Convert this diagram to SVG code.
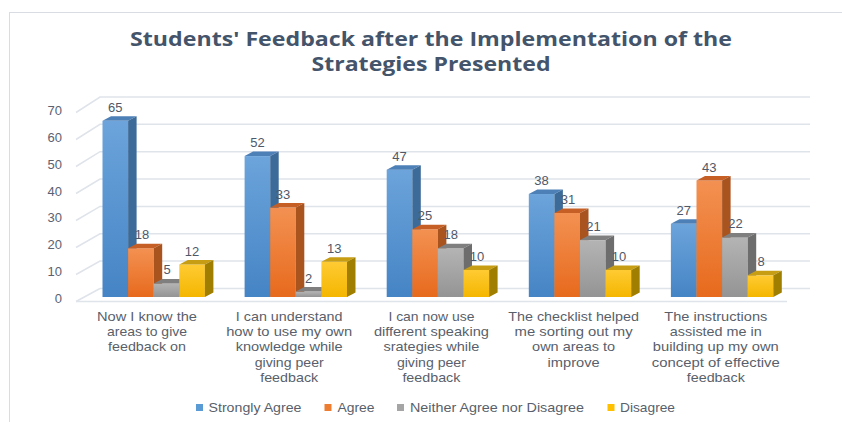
<svg xmlns="http://www.w3.org/2000/svg" width="842" height="422" viewBox="0 0 842 422">
<defs>
<linearGradient id="gB" x1="0" y1="0" x2="0" y2="1"><stop offset="0" stop-color="#6ca4db"/><stop offset="1" stop-color="#4584c5"/></linearGradient>
<linearGradient id="gO" x1="0" y1="0" x2="0" y2="1"><stop offset="0" stop-color="#f39152"/><stop offset="1" stop-color="#e76a1d"/></linearGradient>
<linearGradient id="gG" x1="0" y1="0" x2="0" y2="1"><stop offset="0" stop-color="#b4b4b4"/><stop offset="1" stop-color="#949494"/></linearGradient>
<linearGradient id="gY" x1="0" y1="0" x2="0" y2="1"><stop offset="0" stop-color="#ffcb33"/><stop offset="1" stop-color="#f4b600"/></linearGradient>
</defs>
<style>
.grid{stroke:#dfe3ea;stroke-width:1.5;fill:none}
.ax{font-family:"Liberation Sans",Arial,sans-serif;font-size:13px;fill:#5a6272}
.val{font-family:"Liberation Sans",Arial,sans-serif;font-size:13px;fill:#4f5868;text-anchor:middle}
.cat{font-family:"Liberation Sans",Arial,sans-serif;font-size:13.5px;fill:#595f6b;text-anchor:middle}
.leg{font-family:"Liberation Sans",Arial,sans-serif;font-size:13.5px;fill:#595f6b}
.title{font-family:"Open Sans","Liberation Sans",sans-serif;font-size:20px;font-weight:bold;fill:#44546a;text-anchor:middle}
.bf{fill:url(#gB)} .bs{fill:#3d6b99} .bt{fill:#4e80b8}
.of{fill:url(#gO)} .os{fill:#a9531f} .ot{fill:#c55f25}
.gf{fill:url(#gG)} .gs{fill:#6d6d6d} .gt{fill:#7f7f7f}
.yf{fill:url(#gY)} .ys{fill:#a07f00} .yt{fill:#c79d14}
</style>
<rect x="0" y="0" width="842" height="422" fill="#ffffff"/>
<rect id="frame" x="9.5" y="12.5" width="1000" height="1000" fill="#ffffff" stroke="#d9dde3" stroke-width="1"/>

<g id="title">
<text class="title" x="431" y="46" textLength="602" lengthAdjust="spacingAndGlyphs">Students' Feedback after the Implementation of the</text>
<text class="title" x="431" y="71" textLength="239" lengthAdjust="spacingAndGlyphs">Strategies Presented</text>
</g>

<g id="gridlines">
<path class="grid" d="M76,301.5 L100,288.5 M76,274.5 L100,261.1 H810 M76,247.5 L100,233.8 H810 M76,220.5 L100,206.4 H810 M76,193.5 L100,179.1 H810 M76,166.5 L100,151.7 H810 M76,139.5 L100,124.3 H810 M76,112.5 L100,97 H810"/>
<path class="grid" d="M100,288.5 H810 M76,301.5 H787"/>
</g>

<g id="y-axis">
<text class="ax" x="62" y="303" text-anchor="end">0</text>
<text class="ax" x="62" y="276.1" text-anchor="end">10</text>
<text class="ax" x="62" y="249.3" text-anchor="end">20</text>
<text class="ax" x="62" y="222.4" text-anchor="end">30</text>
<text class="ax" x="62" y="195.6" text-anchor="end">40</text>
<text class="ax" x="62" y="168.7" text-anchor="end">50</text>
<text class="ax" x="62" y="141.8" text-anchor="end">60</text>
<text class="ax" x="62" y="115" text-anchor="end">70</text>
</g>

<g id="group1">
<rect class="bf" x="102.5" y="120.85" width="25.6" height="176.15"/>
<path class="bt" d="M102.5,120.85 L111,116.35 L136.6,116.35 L128.1,120.85Z"/>
<path class="bs" d="M128.1,120.85 L136.6,116.35 L136.6,292.5 L128.1,297Z"/>
<rect class="of" x="128.1" y="248.22" width="25.6" height="48.78"/>
<path class="ot" d="M128.1,248.22 L136.6,243.72 L162.2,243.72 L153.7,248.22Z"/>
<path class="os" d="M153.7,248.22 L162.2,243.72 L162.2,292.5 L153.7,297Z"/>
<rect class="gf" x="153.7" y="283.45" width="25.6" height="13.55"/>
<path class="gt" d="M153.7,283.45 L162.2,278.95 L187.8,278.95 L179.3,283.45Z"/>
<path class="gs" d="M179.3,283.45 L187.8,278.95 L187.8,292.5 L179.3,297Z"/>
<rect class="yf" x="179.3" y="264.48" width="25.6" height="32.52"/>
<path class="yt" d="M179.3,264.48 L187.8,259.98 L213.4,259.98 L204.9,264.48Z"/>
<path class="ys" d="M204.9,264.48 L213.4,259.98 L213.4,292.5 L204.9,297Z"/>
<text class="val" x="115.3" y="111.85">65</text>
<text class="val" x="142" y="239.2">18</text>
<text class="val" x="167" y="274.45">5</text>
<text class="val" x="192.1" y="255.5">12</text>
<text class="cat" y="321"><tspan x="147" textLength="100" lengthAdjust="spacingAndGlyphs">Now I know the</tspan><tspan x="147" dy="15.2" textLength="80" lengthAdjust="spacingAndGlyphs">areas to give</tspan><tspan x="147" dy="15.2" textLength="78" lengthAdjust="spacingAndGlyphs">feedback on</tspan></text>
</g>

<g id="group2">
<rect class="bf" x="244.6" y="156.08" width="25.6" height="140.92"/>
<path class="bt" d="M244.6,156.08 L253.1,151.58 L278.7,151.58 L270.2,156.08Z"/>
<path class="bs" d="M270.2,156.08 L278.7,151.58 L278.7,292.5 L270.2,297Z"/>
<rect class="of" x="270.2" y="207.57" width="25.6" height="89.43"/>
<path class="ot" d="M270.2,207.57 L278.7,203.07 L304.3,203.07 L295.8,207.57Z"/>
<path class="os" d="M295.8,207.57 L304.3,203.07 L304.3,292.5 L295.8,297Z"/>
<rect class="gf" x="295.8" y="291.58" width="25.6" height="5.42"/>
<path class="gt" d="M295.8,291.58 L304.3,287.08 L329.9,287.08 L321.4,291.58Z"/>
<path class="gs" d="M321.4,291.58 L329.9,287.08 L329.9,292.5 L321.4,297Z"/>
<rect class="yf" x="321.4" y="261.77" width="25.6" height="35.23"/>
<path class="yt" d="M321.4,261.77 L329.9,257.27 L355.5,257.27 L347,261.77Z"/>
<path class="ys" d="M347,261.77 L355.5,257.27 L355.5,292.5 L347,297Z"/>
<text class="val" x="257.4" y="147.1">52</text>
<text class="val" x="283" y="198.6">33</text>
<text class="val" x="308.6" y="282.6">2</text>
<text class="val" x="334.2" y="252.8">13</text>
<text class="cat" y="321"><tspan x="289.2" textLength="106.7" lengthAdjust="spacingAndGlyphs">I can understand</tspan><tspan x="289.2" dy="15.2" textLength="126" lengthAdjust="spacingAndGlyphs">how to use my own</tspan><tspan x="289.2" dy="15.2" textLength="107" lengthAdjust="spacingAndGlyphs">knowledge while</tspan><tspan x="289.2" dy="15.2" textLength="69" lengthAdjust="spacingAndGlyphs">giving peer</tspan><tspan x="289.2" dy="15.2" textLength="58" lengthAdjust="spacingAndGlyphs">feedback</tspan></text>
</g>

<g id="group3">
<rect class="bf" x="386.7" y="169.63" width="25.6" height="127.37"/>
<path class="bt" d="M386.7,169.63 L395.2,165.13 L420.8,165.13 L412.3,169.63Z"/>
<path class="bs" d="M412.3,169.63 L420.8,165.13 L420.8,292.5 L412.3,297Z"/>
<rect class="of" x="412.3" y="229.25" width="25.6" height="67.75"/>
<path class="ot" d="M412.3,229.25 L420.8,224.75 L446.4,224.75 L437.9,229.25Z"/>
<path class="os" d="M437.9,229.25 L446.4,224.75 L446.4,292.5 L437.9,297Z"/>
<rect class="gf" x="437.9" y="248.22" width="25.6" height="48.78"/>
<path class="gt" d="M437.9,248.22 L446.4,243.72 L472,243.72 L463.5,248.22Z"/>
<path class="gs" d="M463.5,248.22 L472,243.72 L472,292.5 L463.5,297Z"/>
<rect class="yf" x="463.5" y="269.9" width="25.6" height="27.1"/>
<path class="yt" d="M463.5,269.9 L472,265.4 L497.6,265.4 L489.1,269.9Z"/>
<path class="ys" d="M489.1,269.9 L497.6,265.4 L497.6,292.5 L489.1,297Z"/>
<text class="val" x="399.5" y="160.6">47</text>
<text class="val" x="425.1" y="220.25">25</text>
<text class="val" x="450.7" y="239.2">18</text>
<text class="val" x="477" y="260.9">10</text>
<text class="cat" y="321"><tspan x="431.4" textLength="86" lengthAdjust="spacingAndGlyphs">I can now use</tspan><tspan x="431.4" dy="15.2" textLength="115" lengthAdjust="spacingAndGlyphs">different speaking</tspan><tspan x="431.4" dy="15.2" textLength="96" lengthAdjust="spacingAndGlyphs">srategies while</tspan><tspan x="431.4" dy="15.2" textLength="69" lengthAdjust="spacingAndGlyphs">giving peer</tspan><tspan x="431.4" dy="15.2" textLength="58" lengthAdjust="spacingAndGlyphs">feedback</tspan></text>
</g>

<g id="group4">
<rect class="bf" x="528.8" y="194.02" width="25.6" height="102.98"/>
<path class="bt" d="M528.8,194.02 L537.3,189.52 L562.9,189.52 L554.4,194.02Z"/>
<path class="bs" d="M554.4,194.02 L562.9,189.52 L562.9,292.5 L554.4,297Z"/>
<rect class="of" x="554.4" y="212.99" width="25.6" height="84.01"/>
<path class="ot" d="M554.4,212.99 L562.9,208.49 L588.5,208.49 L580,212.99Z"/>
<path class="os" d="M580,212.99 L588.5,208.49 L588.5,292.5 L580,297Z"/>
<rect class="gf" x="580" y="240.09" width="25.6" height="56.91"/>
<path class="gt" d="M580,240.09 L588.5,235.59 L614.1,235.59 L605.6,240.09Z"/>
<path class="gs" d="M605.6,240.09 L614.1,235.59 L614.1,292.5 L605.6,297Z"/>
<rect class="yf" x="605.6" y="269.9" width="25.6" height="27.1"/>
<path class="yt" d="M605.6,269.9 L614.1,265.4 L639.7,265.4 L631.2,269.9Z"/>
<path class="ys" d="M631.2,269.9 L639.7,265.4 L639.7,292.5 L631.2,297Z"/>
<text class="val" x="541.6" y="185">38</text>
<text class="val" x="568" y="204">31</text>
<text class="val" x="593.5" y="231.1">21</text>
<text class="val" x="619" y="260.9">10</text>
<text class="cat" y="321"><tspan x="573.6" textLength="130.7" lengthAdjust="spacingAndGlyphs">The checklist helped</tspan><tspan x="573.6" dy="15.2" textLength="118" lengthAdjust="spacingAndGlyphs">me sorting out my</tspan><tspan x="573.6" dy="15.2" textLength="83" lengthAdjust="spacingAndGlyphs">own areas to</tspan><tspan x="573.6" dy="15.2" textLength="52" lengthAdjust="spacingAndGlyphs">improve</tspan></text>
</g>

<g id="group5">
<rect class="bf" x="670.9" y="223.83" width="25.6" height="73.17"/>
<path class="bt" d="M670.9,223.83 L679.4,219.33 L705,219.33 L696.5,223.83Z"/>
<path class="bs" d="M696.5,223.83 L705,219.33 L705,292.5 L696.5,297Z"/>
<rect class="of" x="696.5" y="180.47" width="25.6" height="116.53"/>
<path class="ot" d="M696.5,180.47 L705,175.97 L730.6,175.97 L722.1,180.47Z"/>
<path class="os" d="M722.1,180.47 L730.6,175.97 L730.6,292.5 L722.1,297Z"/>
<rect class="gf" x="722.1" y="237.38" width="25.6" height="59.62"/>
<path class="gt" d="M722.1,237.38 L730.6,232.88 L756.2,232.88 L747.7,237.38Z"/>
<path class="gs" d="M747.7,237.38 L756.2,232.88 L756.2,292.5 L747.7,297Z"/>
<rect class="yf" x="747.7" y="275.32" width="25.6" height="21.68"/>
<path class="yt" d="M747.7,275.32 L756.2,270.82 L781.8,270.82 L773.3,275.32Z"/>
<path class="ys" d="M773.3,275.32 L781.8,270.82 L781.8,292.5 L773.3,297Z"/>
<text class="val" x="683.7" y="214.8">27</text>
<text class="val" x="709.3" y="171.5">43</text>
<text class="val" x="735.5" y="228.4">22</text>
<text class="val" x="761" y="266.3">8</text>
<text class="cat" y="321"><tspan x="715.8" textLength="103" lengthAdjust="spacingAndGlyphs">The instructions</tspan><tspan x="715.8" dy="15.2" textLength="92" lengthAdjust="spacingAndGlyphs">assisted me in</tspan><tspan x="715.8" dy="15.2" textLength="126" lengthAdjust="spacingAndGlyphs">building up my own</tspan><tspan x="715.8" dy="15.2" textLength="128" lengthAdjust="spacingAndGlyphs">concept of effective</tspan><tspan x="715.8" dy="15.2" textLength="58" lengthAdjust="spacingAndGlyphs">feedback</tspan></text>
</g>

<g id="legend">
<rect x="196" y="404" width="7" height="7" fill="#5b9bd5"/>
<text class="leg" x="208.5" y="411.5" textLength="93" lengthAdjust="spacingAndGlyphs">Strongly Agree</text>
<rect x="324.5" y="404" width="7" height="7" fill="#ed7d31"/>
<text class="leg" x="337.5" y="411.5" textLength="37" lengthAdjust="spacingAndGlyphs">Agree</text>
<rect x="397" y="404" width="7" height="7" fill="#a5a5a5"/>
<text class="leg" x="410" y="411.5" textLength="174" lengthAdjust="spacingAndGlyphs">Neither Agree nor Disagree</text>
<rect x="607.5" y="404" width="7" height="7" fill="#ffc000"/>
<text class="leg" x="620" y="411.5" textLength="55" lengthAdjust="spacingAndGlyphs">Disagree</text>
</g>
</svg>
